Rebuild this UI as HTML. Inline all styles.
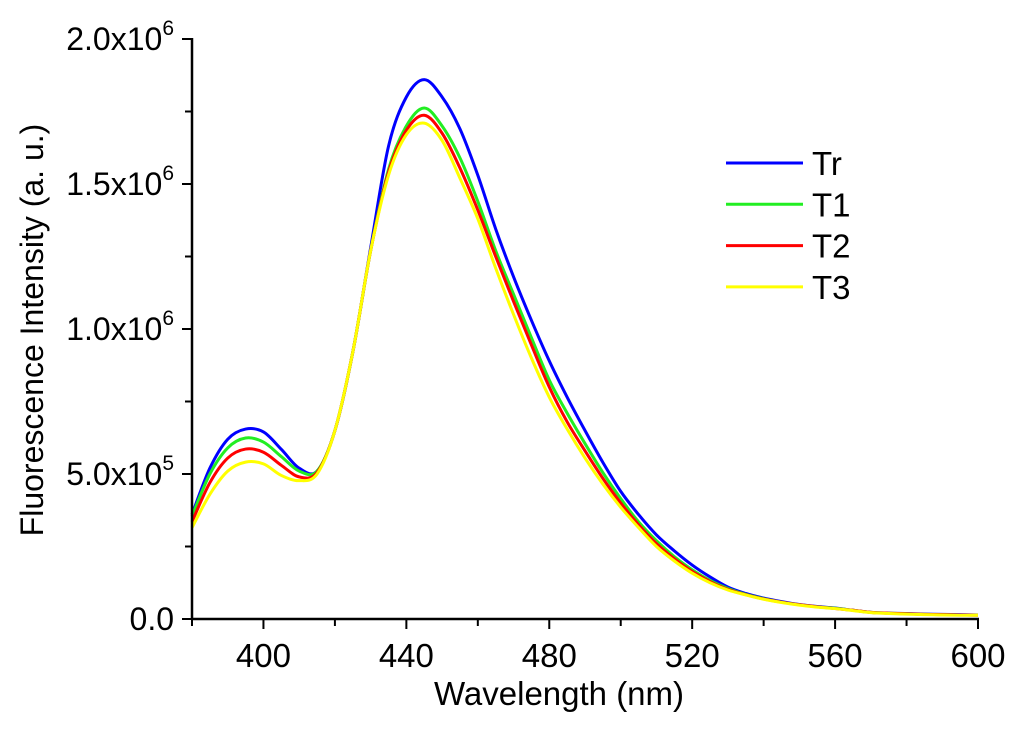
<!DOCTYPE html>
<html><head><meta charset="utf-8"><style>
html,body{margin:0;padding:0;background:#fff;}
svg{display:block;font-family:"Liberation Sans",Arial,sans-serif;}
</style></head><body>
<svg id="chart" width="1024" height="732" viewBox="0 0 1024 732" xmlns="http://www.w3.org/2000/svg">
<g id="plot"></g>
<g id="axes"></g>
<g id="legend"></g>
</svg>
<script>
const wavelengths = [380,385,390,395,400,405,410,415,420,425,430,435,440,445,450,455,460,465,470,475,480,485,490,495,500,505,510,515,520,525,530,535,540,545,550,555,560,565,570,575,580,585,590,595,600];
const seriesTr = [.36,.52,.62,.655,.645,.585,.52,.51,.65,.92,1.28,1.63,1.80,1.86,1.80,1.69,1.53,1.345,1.18,1.03,.89,.765,.65,.54,.44,.36,.29,.235,.186,.145,.11,.088,.072,.06,.05,.043,.038,.03,.023,.02,.019,.017,.016,.015,.014];
const seriesT1 = [.355,.50,.59,.624,.61,.56,.51,.51,.65,.92,1.27,1.55,1.70,1.762,1.70,1.59,1.44,1.27,1.12,.97,.824,.71,.605,.505,.415,.335,.27,.215,.17,.133,.105,.085,.07,.058,.049,.042,.037,.03,.023,.02,.018,.016,.015,.014,.014];
const seriesT2 = [.335,.47,.555,.586,.575,.53,.49,.505,.65,.92,1.27,1.54,1.685,1.737,1.675,1.555,1.41,1.25,1.095,.945,.80,.68,.58,.485,.40,.325,.26,.208,.164,.129,.102,.084,.069,.058,.049,.042,.036,.03,.023,.02,.018,.016,.015,.014,.013];
const seriesT3 = [.315,.43,.51,.541,.535,.495,.477,.50,.65,.92,1.27,1.53,1.67,1.71,1.65,1.52,1.38,1.21,1.05,.90,.765,.655,.555,.465,.385,.315,.25,.20,.158,.125,.10,.083,.068,.057,.048,.041,.036,.029,.022,.019,.017,.015,.014,.013,.013];
const seriesNames = ["Tr","T1","T2","T3"];
const seriesColors = ["#0000ff","#22ee22","#ff0000","#ffff00"];
const xTicks = [400,440,480,520,560,600];
const yTickVals = [0,0.5,1.0,1.5,2.0];
const yTickMant = ["0.0","5.0","1.0","1.5","2.0"];
const yTickExp = ["","5","6","6","6"];

const NS="http://www.w3.org/2000/svg";
const X0=192, X1=978, Y0=619, Y1=39;
const xs = w => X0 + (w-380)/(600-380)*(X1-X0);
const ys = v => Y0 - v/2.0*(Y0-Y1);
function mk(tag, attrs, parent){const e=document.createElementNS(NS,tag);for(const k in attrs)e.setAttribute(k,attrs[k]);parent.appendChild(e);return e;}
const plot=document.getElementById('plot'), axes=document.getElementById('axes'), legend=document.getElementById('legend');

function pathFor(vals){
  const p=wavelengths.map((w,i)=>[xs(w),ys(vals[i])]);
  let d="M"+p[0][0].toFixed(2)+","+p[0][1].toFixed(2);
  for(let i=0;i<p.length-1;i++){
    const a=p[Math.max(0,i-1)],b=p[i],c=p[i+1],e=p[Math.min(p.length-1,i+2)];
    const c1=[b[0]+(c[0]-a[0])/6,b[1]+(c[1]-a[1])/6], c2=[c[0]-(e[0]-b[0])/6,c[1]-(e[1]-b[1])/6];
    d+=" C"+c1[0].toFixed(2)+","+c1[1].toFixed(2)+" "+c2[0].toFixed(2)+","+c2[1].toFixed(2)+" "+c[0].toFixed(2)+","+c[1].toFixed(2);
  }
  return d;
}
const allSeries=[seriesTr,seriesT1,seriesT2,seriesT3];
allSeries.forEach((s,i)=>{
  const el=mk('path',{d:pathFor(s),fill:'none',stroke:seriesColors[i],'stroke-width':3,'stroke-linejoin':'round'},plot);
  
  
});

const xl=mk('line',{x1:X0-1,y1:Y0,x2:X1+1,y2:Y0,stroke:'#000','stroke-width':2.5},axes);


const yl=mk('line',{x1:X0,y1:Y0+1,x2:X0,y2:Y1-1,stroke:'#000','stroke-width':2.5},axes);


for(let w=380;w<=600;w+=20){
  const major=(w-400)%40===0;
  const t=mk('line',{x1:xs(w),y1:Y0,x2:xs(w),y2:Y0+(major?10:7),stroke:'#000','stroke-width':2},axes);
  
  
}
xTicks.forEach(w=>{
  const t=mk('text',{x:xs(w),y:667,'font-size':33,'text-anchor':'middle',fill:'#000'},axes);
  t.textContent=String(w);
  
  
});
for(let v=0;v<=2.0001;v+=0.25){
  const major=Math.abs(v*2-Math.round(v*2))<1e-6;
  const t=mk('line',{x1:X0,y1:ys(v),x2:X0-(major?10:7),y2:ys(v),stroke:'#000','stroke-width':2},axes);
  
  
}
yTickVals.forEach((v,i)=>{
  const t=mk('text',{x:174,y:ys(v)+11,'font-size':32,'text-anchor':'end',fill:'#000'},axes);
  
  
  if(yTickExp[i]){
    t.textContent=yTickMant[i]+"x10";
    const sp=mk('tspan',{'font-size':21,dy:-15},t);
    sp.textContent=yTickExp[i];
  } else t.textContent=yTickMant[i];
});
const xt=mk('text',{x:559,y:705,'font-size':33,'text-anchor':'middle',fill:'#000'},axes);
xt.textContent="Wavelength (nm)";


const yt=mk('text',{x:0,y:0,'font-size':32,'text-anchor':'middle',fill:'#000',transform:'translate(43,330) rotate(-90)'},axes);
yt.textContent="Fluorescence Intensity (a. u.)";



seriesNames.forEach((n,i)=>{
  const y=163+i*41.3;
  const g=mk('g',{},legend);
  
  
  mk('line',{x1:726,y1:y,x2:803,y2:y,stroke:seriesColors[i],'stroke-width':3},g);
  const t=mk('text',{x:812,y:y+12,'font-size':33,fill:'#000'},g);
  t.textContent=n;
});
</script>
</body></html>
